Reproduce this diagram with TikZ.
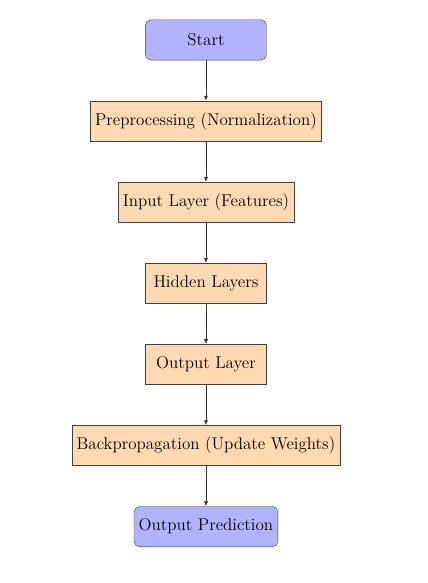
\documentclass[tikz,border=0pt]{standalone}
\usetikzlibrary{positioning,arrows.meta}
\begin{document}
\begin{tikzpicture}[
  startstop/.style={rectangle, rounded corners, minimum width=3cm, minimum height=1cm, text centered, draw=black!75, line width=0.3pt, fill=blue!30, font=\large},
  process/.style={rectangle, minimum width=3cm, minimum height=1cm, text centered, draw=black!75, line width=0.3pt, fill=orange!30, font=\large},
  arrow/.style={-{Latex[length=1.2mm,width=1mm]}, draw=black!80},
  node distance=1cm
]
\useasboundingbox (-5.105,0.99) rectangle (5.50,-13.46);
\node[startstop] (start) at (0,0) {Start};
\node[process, below=of start] (pre) {Preprocessing (Normalization)};
\node[process, below=of pre] (in) {Input Layer (Features)};
\node[process, below=of in] (hid) {Hidden Layers};
\node[process, below=of hid] (out) {Output Layer};
\node[process, below=of out] (bp) {Backpropagation (Update Weights)};
\node[startstop, below=of bp] (pred) {Output Prediction};
\draw[arrow] (start) -- (pre);
\draw[arrow] (pre) -- (in);
\draw[arrow] (in) -- (hid);
\draw[arrow] (hid) -- (out);
\draw[arrow] (out) -- (bp);
\draw[arrow] (bp) -- (pred);
\end{tikzpicture}
\end{document}
